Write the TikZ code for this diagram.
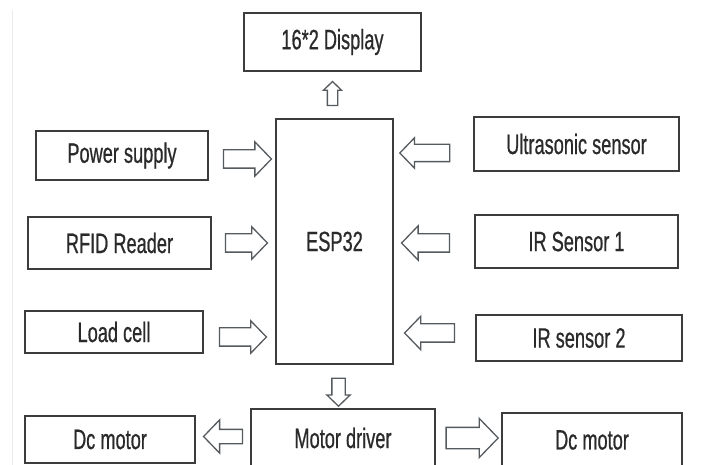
\documentclass[tikz,border=0pt]{standalone}
\usepackage{fontspec}
\setmainfont{Liberation Sans}[FakeStretch=0.65, FakeBold=0.6]
\usetikzlibrary{shapes.arrows}
\definecolor{boxline}{HTML}{3C3C3C}
\definecolor{arrline}{HTML}{555A5E}
\definecolor{txt}{HTML}{2A2A2A}
\tikzset{
  blk/.style={draw=boxline, line width=1.8pt, rectangle, inner sep=0pt, outer sep=0pt,
    text=txt, font=\fontsize{28}{28}\selectfont},
  barrow/.style n args={3}{single arrow, draw=arrline, line width=1.3pt, fill=white,
    minimum height=#1, inner xsep=0pt, inner ysep=#3/2,
    single arrow head extend=#2/2-#3/2, single arrow tip angle=92, outer sep=0pt},
}
\begin{document}
\begin{tikzpicture}[x=1pt,y=-1pt]
\useasboundingbox[fill=white] (0,0) rectangle (721,465);
\draw[black!8, line width=1pt] (12,10) -- (12,465);
% boxes
\node[blk, minimum width=177pt, minimum height=58pt] (disp) at (332.5,42) {16*2 Display};
\node[blk, minimum width=117pt, minimum height=245pt] (esp) at (334.5,241.5) {ESP32};
\node[blk, minimum width=172pt, minimum height=49pt] (ps) at (122,155.5) {Power supply};
\node[blk, minimum width=183pt, minimum height=52pt] (rfid) at (119.5,243) {RFID Reader};
\node[blk, minimum width=178pt, minimum height=42pt] (load) at (114,332) {Load cell};
\node[blk, minimum width=205pt, minimum height=54pt] (ultra) at (576.5,144) {Ultrasonic sensor};
\node[blk, minimum width=203pt, minimum height=53pt] (ir1) at (576.5,241.5) {IR Sensor 1};
\node[blk, minimum width=206pt, minimum height=46pt] (ir2) at (579,338) {IR sensor 2};
\node[blk, minimum width=184pt, minimum height=58pt] (md) at (343,438) {Motor driver};
\node[blk, minimum width=170pt, minimum height=47pt] (dcl) at (110,439.5) {Dc motor};
\node[blk, minimum width=180pt, minimum height=54pt] (dcr) at (592,440) {Dc motor};
% block arrows
\node[barrow={24pt}{17pt}{9pt}, rotate=90] (a-disp) at (332.5,96) {};
\node[barrow={48pt}{33pt}{17pt}] (a-ps) at (243,159) {};
\node[barrow={42pt}{31pt}{17pt}] (a-rfid) at (242,243) {};
\node[barrow={47pt}{31pt}{17pt}] (a-load) at (238.5,337) {};
\node[barrow={50pt}{29pt}{16pt}, rotate=180] (a-ultra) at (429,153) {};
\node[barrow={48pt}{33pt}{17pt}, rotate=180] (a-ir1) at (430,243) {};
\node[barrow={50pt}{32pt}{17pt}, rotate=180] (a-ir2) at (434,333) {};
\node[barrow={28pt}{22pt}{12pt}, rotate=-90] (a-md) at (338.5,389) {};
\node[barrow={39pt}{32pt}{13pt}, rotate=180] (a-dcl) at (226.5,436.5) {};
\node[barrow={52pt}{38pt}{20pt}] (a-dcr) at (467,438) {};
\end{tikzpicture}
\end{document}
